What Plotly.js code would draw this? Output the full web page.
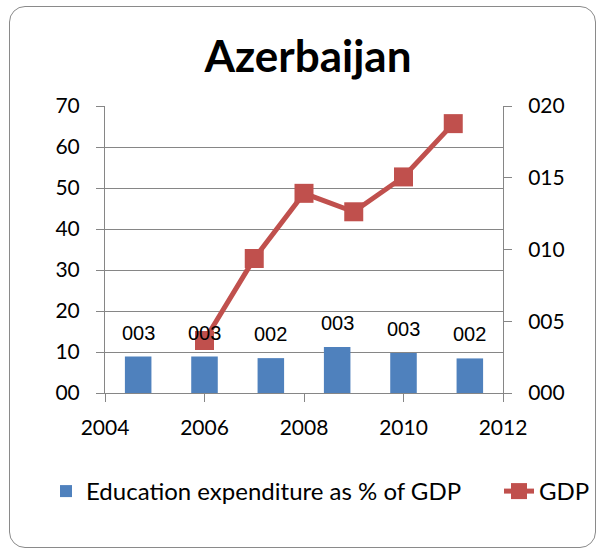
<!DOCTYPE html>
<html>
<head>
<meta charset="utf-8">
<script src="https://cdn.plot.ly/plotly-3.0.1.min.js"></script>
<style>
  html, body { margin: 0; padding: 0; background: #fff; }
  #wrap { position: relative; width: 602px; height: 552px; }
  #chart { width: 602px; height: 552px; }
  #frame { position: absolute; left: 9px; top: 6px; width: 587px; height: 542px;
           border: 1.5px solid #8a8a8a; border-radius: 16px; pointer-events: none; box-sizing: border-box; }
</style>
</head>
<body>
<div id="wrap">
  <div id="chart"></div>
  <div id="frame"></div>
</div>
<script>
// ---- data ----
const title = "Azerbaijan";
const eduName = "Education expenditure as % of GDP";
const gdpName = "GDP";
const eduCategories = ["2006", "2007", "2008", "2009", "2010", "2011"];
const eduValues = [2.54, 2.54, 2.43, 3.2, 2.78, 2.41];
const gdpYears = [2006, 2007, 2008, 2009, 2010, 2011];
const gdpValues = [12.8, 32.8, 48.7, 44.2, 52.7, 65.7];

const pad3 = v => String(Math.round(v)).padStart(3, "0");

const fontMain = "Lato, 'Open Sans', sans-serif";
const gridCol = "#868686";

const traces = [
  {
    type: "bar",
    name: eduName,
    x: eduCategories,
    y: eduValues,
    xaxis: "x2",
    yaxis: "y2",
    width: 0.4,
    marker: { color: "#4F81BD" },
    legend: "legend",
    hoverinfo: "skip"
  },
  {
    type: "scatter",
    mode: "lines+markers",
    name: gdpName,
    x: gdpYears,
    y: gdpValues,
    xaxis: "x",
    yaxis: "y",
    line: { color: "#C0504D", width: 5 },
    marker: { symbol: "square", size: 19, color: "#C0504D" },
    legend: "legend2",
    hoverinfo: "skip"
  }
];

// bar value labels, placed at each bar's category index and value
const annotations = eduValues.map((v, i) => ({
  x: i, y: v, xref: "x2", yref: "y2",
  text: pad3(v),
  showarrow: false, yanchor: "bottom", xanchor: "center", yshift: 11,
  font: { family: "'Liberation Sans', Arial, sans-serif", size: 20, color: "#000" }
}));

const legendFont = { family: fontMain, size: 24, color: "#000" };
const legY = (393.3 - 492) / 287.6;

const layout = {
  width: 602, height: 552,
  margin: { l: 105, r: 99, t: 106, b: 159, autoexpand: false },
  paper_bgcolor: "#fff", plot_bgcolor: "#fff",
  showlegend: true,
  font: { family: fontMain, size: 21, color: "#000" },
  title: {
    text: "<b>" + title + "</b>",
    font: { family: fontMain, size: 44, color: "#000" },
    x: 0.51, xanchor: "center", xref: "paper",
    y: 1 - 57 / 552, yanchor: "middle"
  },
  xaxis: {
    type: "linear", range: [2004, 2012], dtick: 2, tick0: 2004,
    showgrid: false, zeroline: false,
    showline: true, linecolor: gridCol, linewidth: 1,
    ticks: "outside", ticklen: 8, tickcolor: gridCol,
    ticklabelstandoff: 8,
    tickfont: { family: fontMain, size: 21, color: "#000" },
    fixedrange: true
  },
  xaxis2: {
    type: "category", overlaying: "x", anchor: "y2",
    range: [-0.5, 5.5], visible: false, showgrid: false, fixedrange: true
  },
  yaxis: {
    range: [0, 70], dtick: 10, tickformat: "02d",
    showgrid: true, gridcolor: gridCol, gridwidth: 1, zeroline: false,
    showline: true, linecolor: gridCol, linewidth: 1,
    ticks: "outside", ticklen: 8, tickcolor: gridCol,
    ticklabelstandoff: 12,
    tickfont: { family: fontMain, size: 21, color: "#000" },
    fixedrange: true
  },
  yaxis2: {
    range: [0, 20], dtick: 5, tickformat: "03d",
    overlaying: "y", side: "right", anchor: "x",
    showgrid: false, zeroline: false,
    showline: true, linecolor: gridCol, linewidth: 1,
    ticks: "outside", ticklen: 8, tickcolor: gridCol,
    ticklabelstandoff: 12,
    tickfont: { family: fontMain, size: 21, color: "#000" },
    fixedrange: true
  },
  legend: {
    orientation: "h", xref: "paper", yref: "paper",
    x: (46 - 105) / 398, xanchor: "left",
    y: legY, yanchor: "middle",
    font: legendFont, itemwidth: 30, bgcolor: "rgba(0,0,0,0)"
  },
  legend2: {
    orientation: "h", xref: "paper", yref: "paper",
    x: (499 - 105) / 398, xanchor: "left",
    y: legY, yanchor: "middle",
    font: legendFont, itemwidth: 30, bgcolor: "rgba(0,0,0,0)"
  },
  annotations: annotations
};

Plotly.newPlot("chart", traces, layout, { displayModeBar: false, staticPlot: true });
</script>
</body>
</html>
